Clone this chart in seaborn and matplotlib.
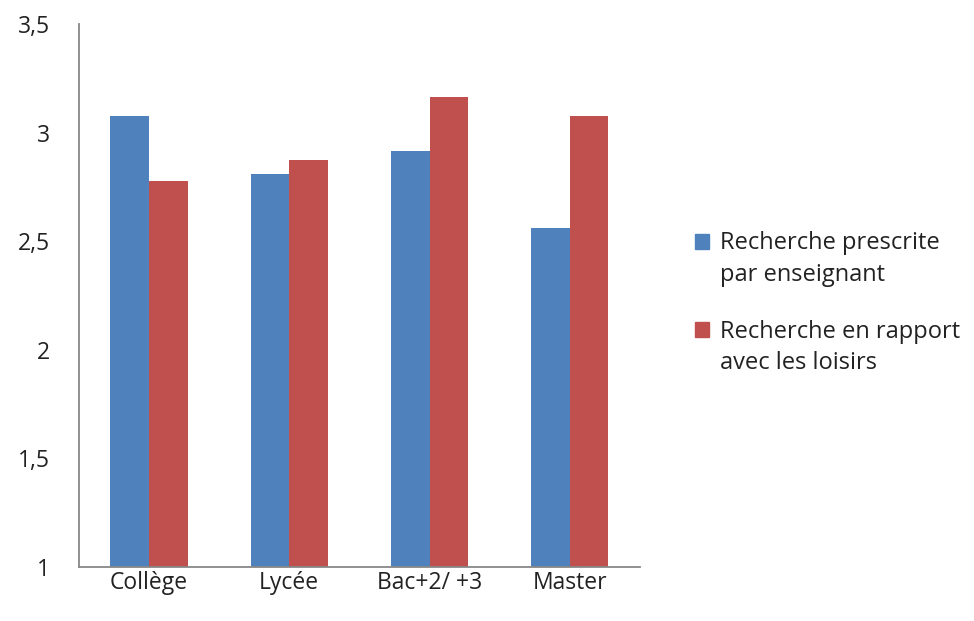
import pandas as pd
import numpy as np
import matplotlib.pyplot as plt
import seaborn as sns
from matplotlib.ticker import FuncFormatter, FixedLocator
from matplotlib.patches import Patch

# Data
niveaux = ['Collège', 'Lycée', 'Bac+2/ +3', 'Master']
prescrite = [3.075, 2.81, 2.915, 2.56]
loisirs = [2.78, 2.875, 3.165, 3.075]
series = ['Recherche prescrite\npar enseignant', 'Recherche en rapport\navec les loisirs']
couleurs = ['#4F81BD', '#C0504D']

df = pd.DataFrame({
    'niveau': niveaux * 2,
    'valeur': prescrite + loisirs,
    'serie': [series[0]] * len(niveaux) + [series[1]] * len(niveaux),
})

sns.set_style('white')
plt.rcParams['font.family'] = ['Open Sans', 'DejaVu Sans']

fig = plt.figure(figsize=(9.74, 6.21), dpi=100)
ax = fig.add_axes([0.081, 0.087, 0.576, 0.874])

sns.barplot(data=df, x='niveau', y='valeur', hue='serie', palette=couleurs,
            width=0.55, gap=0, saturation=1, legend=False, linewidth=0, ax=ax)

ax.set_ylim(1, 3.5)
ax.set_xlim(-0.5, len(niveaux) - 0.5)
ax.set_yticks([1, 1.5, 2, 2.5, 3, 3.5])
ax.yaxis.set_major_formatter(FuncFormatter(lambda v, p: f'{v:g}'.replace('.', ',')))
ax.set_xlabel('')
ax.set_ylabel('')

# Excel-style ticks: x tick marks between categories
ax.xaxis.set_minor_locator(FixedLocator(np.arange(-0.5, len(niveaux), 1)))
ax.tick_params(axis='x', which='major', length=0, pad=3, labelsize=16.5, labelcolor='#222222')
ax.tick_params(axis='x', which='minor', length=6, color='#888888', width=1.2)
ax.tick_params(axis='y', length=6, color='#888888', width=1.2, pad=15, labelsize=16.5, labelcolor='#222222')

for side in ['top', 'right']:
    ax.spines[side].set_visible(False)
for side in ['left', 'bottom']:
    ax.spines[side].set_color('#888888')
    ax.spines[side].set_linewidth(1.3)

handles = [Patch(facecolor=c, edgecolor=c) for c in couleurs]
leg = fig.legend(handles, series, loc='center left', bbox_to_anchor=(0.692, 0.512),
                 frameon=False, fontsize=17, handlelength=0.6, handleheight=0.6,
                 handletextpad=0.45, labelspacing=1.4, labelcolor='#222222')
for t in leg.get_texts():
    t.set_linespacing(1.4)
# align the square with the first line of each label, as in Excel
for h in leg.legend_handles:
    h.set_y(h.get_y() + 13)

plt.savefig('out.png', dpi=100)
